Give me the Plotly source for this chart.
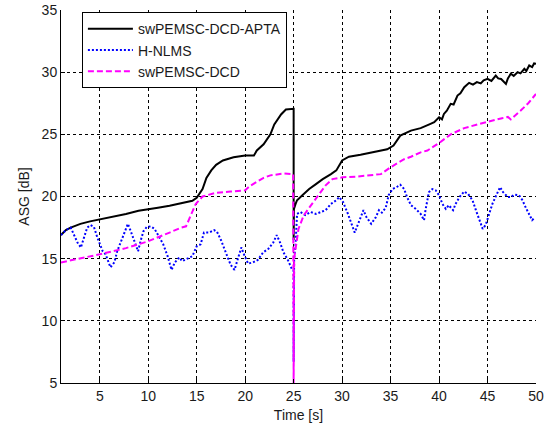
import plotly.graph_objects as go

# ---- data ----
apta_t = [1.0, 1.5, 2.0, 3.0, 4.0, 5.0, 6.0, 7.0, 7.7, 9.0, 10.0, 11.0, 12.2, 13.5, 14.55, 15.0,
          15.6, 16.0, 16.5, 17.0, 17.7, 18.8, 20.0, 20.9, 21.2, 21.9, 22.6, 23.0, 23.7, 24.2, 24.6,
          25.0, 25.0, 25.03, 25.2, 25.35, 25.9, 26.6, 27.3, 28.0, 28.85, 29.4, 30.0, 30.7, 31.9,
          33.3, 34.65, 35.3, 36.0, 37.1, 38.1, 39.0, 39.5, 40.0, 40.3, 40.5, 40.8, 41.2, 41.5,
          41.9, 42.2, 42.6, 43.1, 43.5, 43.9, 44.3, 44.6, 45.0, 45.4, 45.85, 46.1, 46.4, 46.7,
          46.9, 47.1, 47.4, 47.7, 48.1, 48.4, 48.8, 49.0, 49.3, 49.6, 49.8, 50.0]
apta_v = [16.9, 17.3, 17.5, 17.8, 18.0, 18.15, 18.35, 18.5, 18.6, 18.85, 19.0, 19.1, 19.25, 19.45, 19.65, 19.9,
          20.6, 21.5, 22.1, 22.55, 22.9, 23.15, 23.3, 23.3, 23.7, 24.2, 25.0, 25.8, 26.6, 27.0, 27.05,
          27.05, 16.5, 19.0, 19.4, 19.7, 20.1, 20.6, 21.0, 21.4, 21.8, 22.1, 22.9, 23.2, 23.35,
          23.55, 23.8, 24.1, 24.9, 25.3, 25.5, 25.8, 25.97, 26.37, 26.2, 26.64, 26.9, 27.45, 27.4,
          28.12, 28.3, 28.79, 29.14, 29.0, 29.2, 29.1, 29.35, 29.47, 29.3, 29.73, 29.5, 29.45, 29.2,
          29.06, 29.5, 29.87, 29.7, 30.0, 29.9, 30.27, 30.1, 30.54, 30.4, 30.7, 30.67]

hnlms_t = [1.0, 1.5, 2.0, 2.35, 2.7, 3.05, 3.4, 3.7, 4.05, 4.4, 4.75, 5.3, 5.6, 5.85, 6.1, 6.5, 6.8,
           7.35, 7.7, 7.9, 8.2, 8.6, 8.95, 9.2, 9.5, 9.85, 10.25, 10.65, 11.1, 11.55, 12.0, 12.4,
           12.75, 13.2, 13.5, 14.0, 14.55, 15.0, 15.4, 15.75, 16.3, 16.8, 17.1, 17.5, 18.0, 18.5,
           18.9, 19.2, 19.6, 19.9, 20.3, 20.8, 21.3, 21.85, 22.4, 22.9, 23.25, 23.6, 23.95, 24.4,
           24.8, 25.0, 25.0, 25.05, 25.2, 25.35, 25.7, 26.2, 26.75, 27.3, 27.8, 28.3, 28.85, 29.4,
           29.7, 30.1, 30.6, 30.95, 31.3, 31.65, 32.2, 32.5, 33.0, 33.45, 33.8, 34.1, 34.5, 34.8,
           35.2, 35.7, 36.0, 36.4, 36.7, 37.1, 37.6, 38.1, 38.45, 38.6, 38.95, 39.3, 39.65, 40.0,
           40.35, 40.7, 41.0, 41.45, 41.7, 42.1, 42.6, 43.0, 43.45, 43.8, 44.2, 44.5, 44.8, 45.2,
           45.5, 45.9, 46.3, 46.6, 47.1, 47.4, 47.75, 48.25, 48.6, 48.95, 49.3, 49.6, 49.9]
hnlms_v = [16.9, 17.3, 17.5, 16.96, 16.3, 15.9, 16.7, 17.5, 17.7, 17.55, 16.7, 15.6, 15.35, 14.8, 14.3, 14.7, 15.6,
           16.7, 17.4, 17.8, 17.2, 16.4, 15.6, 16.4, 17.2, 17.55, 17.6, 17.4, 16.8, 16.15, 15.2, 14.1,
           14.7, 15.1, 14.8, 15.0, 15.2, 16.0, 16.15, 17.1, 17.1, 17.3, 17.15, 16.5, 15.5, 14.5,
           14.1, 14.9, 15.9, 15.3, 14.6, 14.7, 14.9, 15.5, 15.8, 16.3, 16.9, 16.3, 15.5, 14.9,
           14.2, 14.0, 6.7, 15.0, 16.2, 18.6, 18.75, 18.5, 18.75, 18.6, 18.75, 18.9, 19.4, 19.7,
           19.95, 19.55, 18.6, 17.8, 17.1, 17.8, 18.9, 18.35, 17.8, 18.3, 18.9, 18.7, 19.1, 20.1,
           20.6, 20.8, 20.95, 20.6, 19.95, 19.3, 19.0, 18.6, 18.1, 18.9, 20.35, 20.6, 20.5, 20.1,
           19.4, 19.0, 19.3, 18.9, 19.4, 19.95, 20.4, 20.2, 19.7, 18.9, 18.1, 17.4, 17.7, 18.6,
           19.4, 20.1, 20.75, 20.35, 19.95, 19.95, 20.15, 20.1, 19.7, 19.1, 18.6, 18.1, 18.3]

dcd_t = [1.0, 3.0, 5.0, 7.7, 10.0, 12.2, 13.4, 13.9, 14.4, 14.9, 15.6, 17.0, 18.5, 20.0, 20.5, 21.2,
         21.9, 22.6, 23.3, 24.0, 24.95, 25.0, 25.05, 25.2, 25.5, 26.05, 26.9, 27.6, 28.3, 29.0, 30.1,
         31.5, 32.6, 34.0, 35.0, 36.4, 37.1, 38.1, 38.8, 40.0, 41.2, 42.6, 44.0, 45.35, 46.5, 47.1,
         47.4, 48.4, 49.2, 50.0]
dcd_v = [14.7, 15.0, 15.35, 15.85, 16.4, 17.1, 17.5, 17.6, 18.5, 19.4, 20.0, 20.3, 20.4, 20.5, 20.85, 21.2,
         21.5, 21.7, 21.8, 21.85, 21.8, 5.0, 15.0, 15.9, 17.4, 18.5, 19.4, 20.1, 20.9, 21.4, 21.55,
         21.6, 21.7, 21.8, 22.35, 23.0, 23.2, 23.55, 23.7, 24.3, 25.0, 25.5, 25.8, 26.1, 26.3, 26.4,
         26.2, 26.9, 27.5, 28.25]

x_ticks = [5, 10, 15, 20, 25, 30, 35, 40, 45, 50]
y_ticks = [5, 10, 15, 20, 25, 30, 35]

FONT = "Liberation Sans, Arial, sans-serif"

fig = go.Figure()
fig.add_trace(go.Scatter(x=apta_t, y=apta_v, mode="lines", name="swPEMSC-DCD-APTA",
                         line=dict(color="#000000", width=2)))
fig.add_trace(go.Scatter(x=hnlms_t, y=hnlms_v, mode="lines", name="H-NLMS",
                         line=dict(color="#0000FF", width=2, dash="2px,2px")))
fig.add_trace(go.Scatter(x=dcd_t, y=dcd_v, mode="lines", name="swPEMSC-DCD",
                         line=dict(color="#FF00FF", width=2, dash="6px,3px")))

axis_common = dict(
    showline=True, linecolor="#000000", linewidth=1, mirror=False,
    showgrid=True, gridcolor="#000000", gridwidth=1, griddash="3px,3px",
    zeroline=False, ticks="inside", ticklen=4, tickcolor="#000000",
    tickfont=dict(family=FONT, size=14, color="#1a1a1a"),
)

fig.update_xaxes(range=[1, 50], tickvals=x_ticks,
                 title=dict(text="Time [s]", font=dict(family=FONT, size=14, color="#1a1a1a"), standoff=7),
                 **axis_common)
fig.update_yaxes(range=[5, 35], tickvals=y_ticks,
                 title=dict(text="ASG [dB]", font=dict(family=FONT, size=14, color="#1a1a1a"), standoff=8),
                 **axis_common)

fig.update_layout(
    width=547, height=425,
    margin=dict(l=61, r=11, t=10, b=42, autoexpand=False),
    paper_bgcolor="#ffffff", plot_bgcolor="#ffffff",
    font=dict(family=FONT, size=14, color="#1a1a1a"),
    showlegend=True,
    legend=dict(x=0.044, y=0.994, xanchor="left", yanchor="top", itemwidth=45,
                bgcolor="#ffffff", bordercolor="#000000", borderwidth=1,
                font=dict(family=FONT, size=14, color="#1a1a1a")),
)

fig.write_html("out.html")
